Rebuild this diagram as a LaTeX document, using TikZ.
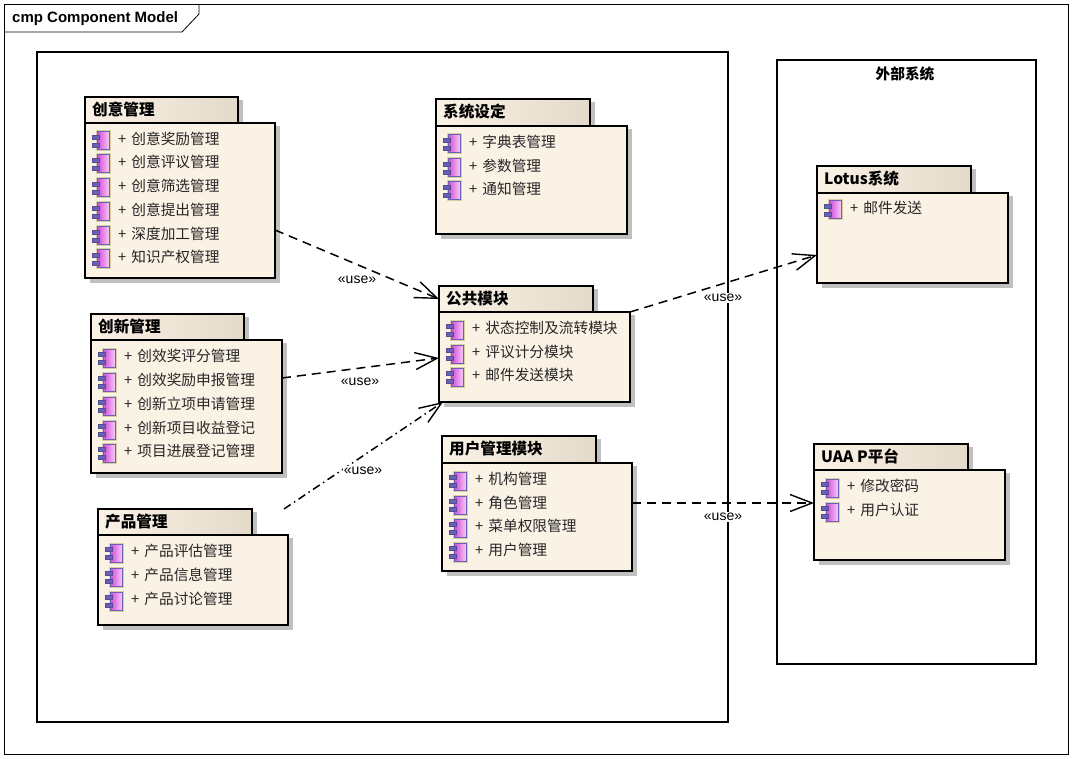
\documentclass[tikz,border=0pt]{standalone}
\usepackage{fontspec}
\setmainfont{Liberation Sans}
\newfontfamily\cjk{Noto Sans CJK SC}
\usetikzlibrary{arrows.meta,calc}
\definecolor{pkgfill}{HTML}{FBF2E6}
\definecolor{tabdark}{HTML}{E3DACA}
\definecolor{shadowgray}{HTML}{C0C0C0}
\definecolor{iconline}{HTML}{6A60B8}
\definecolor{iconedge}{HTML}{D8CFA0}
\definecolor{iconpink}{HTML}{D048D8}
\definecolor{iconlight}{HTML}{F8C8F8}
\tikzset{
  framethin/.style={draw=black,line width=0.8pt},
  framethick/.style={draw=black,line width=2pt},
  pkgtab/.style={draw=black,line width=2pt,anchor=north west,inner sep=0pt,outer sep=0pt,left color=pkgfill,right color=tabdark},
  pkgbody/.style={draw=black,line width=2pt,anchor=north west,inner sep=0pt,outer sep=0pt,fill=pkgfill},
  pkgshadow/.style={fill=shadowgray,draw=none},
  pkgtitle/.style={anchor=west,inner sep=0pt,font=\cjk\bfseries\fontsize{15.6}{17}\selectfont},
  pkgitem/.style={anchor=west,inner sep=0pt,text=black!85,font=\cjk\fontsize{14.7}{16}\selectfont},
  uselabel/.style={fill=white,inner sep=1pt,font=\fontsize{14}{15}\selectfont},
  dep/.style={draw=black,line width=1.5pt,dash pattern=on 9pt off 6pt,-{Straight Barb[length=22pt,width=17pt,line width=1.4pt]}},
  depdot/.style={dep,dash pattern=on 8pt off 4pt on 1.5pt off 4pt},
}
% component icon: #1 x, #2 y (centre of the text line)
\newcommand{\compicon}[2]{%
  \begin{scope}[shift={(#1,#2)}]
    \fill[iconedge] (3.5,-8.5) rectangle (18.5,12.5);
    \shade[shading angle=45,left color=iconpink,right color=iconlight,draw=iconline,line width=1pt] (5,-7) rectangle (17,11);
    \fill[iconline,draw=iconline!80!black,line width=.5pt] (0.5,-4) rectangle (7.5,0);
    \fill[iconline,draw=iconline!80!black,line width=.5pt] (0.5,4) rectangle (7.5,8);
  \end{scope}}
% #1 id, #2 x, #3 y, #4 tab w, #5 tab h, #6 body w, #7 body h, #8 title, #9 items y/text
\newcommand{\pkg}[9]{%
  \pgfmathsetmacro{\bt}{#3+#5}
  \fill[pkgshadow] (#2+5,#3+3) rectangle (#2+#4+5,\bt+5);
  \fill[pkgshadow] (#2+5,\bt+3) rectangle (#2+#6+5,\bt+#7+5);
  \node[pkgtab,minimum width=#4pt,minimum height=#5pt] (#1-tab) at (#2,#3) {};
  \node[pkgbody,minimum width=#6pt,minimum height=#7pt] (#1) at (#2,\bt) {};
  \node[pkgtitle] (#1-title) at (#2+7,#3+#5/2-0.5) {#8};
  \foreach \yy/\txt in {#9} {
    \compicon{#2+7}{\yy}
    \node[pkgitem] (#1-\yy) at (#2+33,\yy) {+\hspace{5pt}\txt};
  }
}
\begin{document}
\begin{tikzpicture}[x=1pt,y=-1pt]
\useasboundingbox (0,0) rectangle (1073,759);
\fill[white] (0,0) rectangle (1073,759);
% outer frame
\draw[framethin] (4,4) rectangle (1068,754);
\draw[framethin] (4,32) -- (182,32) -- (199,14) -- (199,4);
\node[anchor=west,inner sep=0pt,font=\bfseries\fontsize{15}{17}\selectfont] (frametitle) at (12,18.5) {cmp Component Model};
% boundaries
\node[framethick,anchor=north west,inner sep=0pt,outer sep=0pt,minimum width=691pt,minimum height=670pt] (inner) at (37,52) {};
\node[framethick,anchor=north west,inner sep=0pt,outer sep=0pt,minimum width=259pt,minimum height=604pt] (ext) at (777,60) {};
\node[font=\cjk\bfseries\fontsize{14.7}{16}\selectfont,inner sep=0pt] (exttitle) at (905,74) {外部系统};
% packages
\pkg{cy}{85}{97}{153}{26}{190}{155}{创意管理}{139/创意奖励管理,162/创意评议管理,186/创意筛选管理,210/创意提出管理,234/深度加工管理,257/知识产权管理}
\pkg{xt}{436}{99}{154}{27}{191}{108}{系统设定}{142/字典表管理,166/参数管理,189/通知管理}
\pkg{gg}{439}{286}{154}{26}{191}{90}{公共模块}{328/状态控制及流转模块,352/评议计分模块,375/邮件发送模块}
\pkg{cx}{91}{314}{153}{26}{191}{133}{创新管理}{356/创效奖评分管理,380/创效奖励申报管理,404/创新立项申请管理,428/创新项目收益登记,451/项目进展登记管理}
\pkg{cp}{98}{509}{154}{26}{190}{90}{产品管理}{551/产品评估管理,575/产品信息管理,599/产品讨论管理}
\pkg{yh}{442}{436}{154}{27}{190}{108}{用户管理模块}{479/机构管理,503/角色管理,526/菜单权限管理,550/用户管理}
\pkg{lo}{817}{166}{154}{27}{191}{90}{Lotus系统}{208/邮件发送}
\pkg{ua}{814}{444}{154}{26}{191}{90}{UAA P平台}{486/修改密码,510/用户认证}
% connectors
\draw[dep] ([yshift=-29.5pt]cy.east) -- (gg-tab.west);
\draw[dep] ([yshift=28.5pt]cx.east) -- ([yshift=-1pt]gg.west);
\draw[depdot] ([xshift=32pt]cp-tab.north east) -- ([xshift=4pt]gg.south west);
\draw[dep] (gg.north east) -- ([yshift=-17pt]lo.west);
\draw[dep] ([yshift=14pt]yh.east) -- ([yshift=12pt]ua.west);
% labels
\node[uselabel] (u1) at (357,280) {«use»};
\node[uselabel] (u2) at (360,382) {«use»};
\node[uselabel] (u3) at (363,471) {«use»};
\node[uselabel] (u4) at (723,298) {«use»};
\node[uselabel] (u5) at (723,517) {«use»};
\end{tikzpicture}
\end{document}
